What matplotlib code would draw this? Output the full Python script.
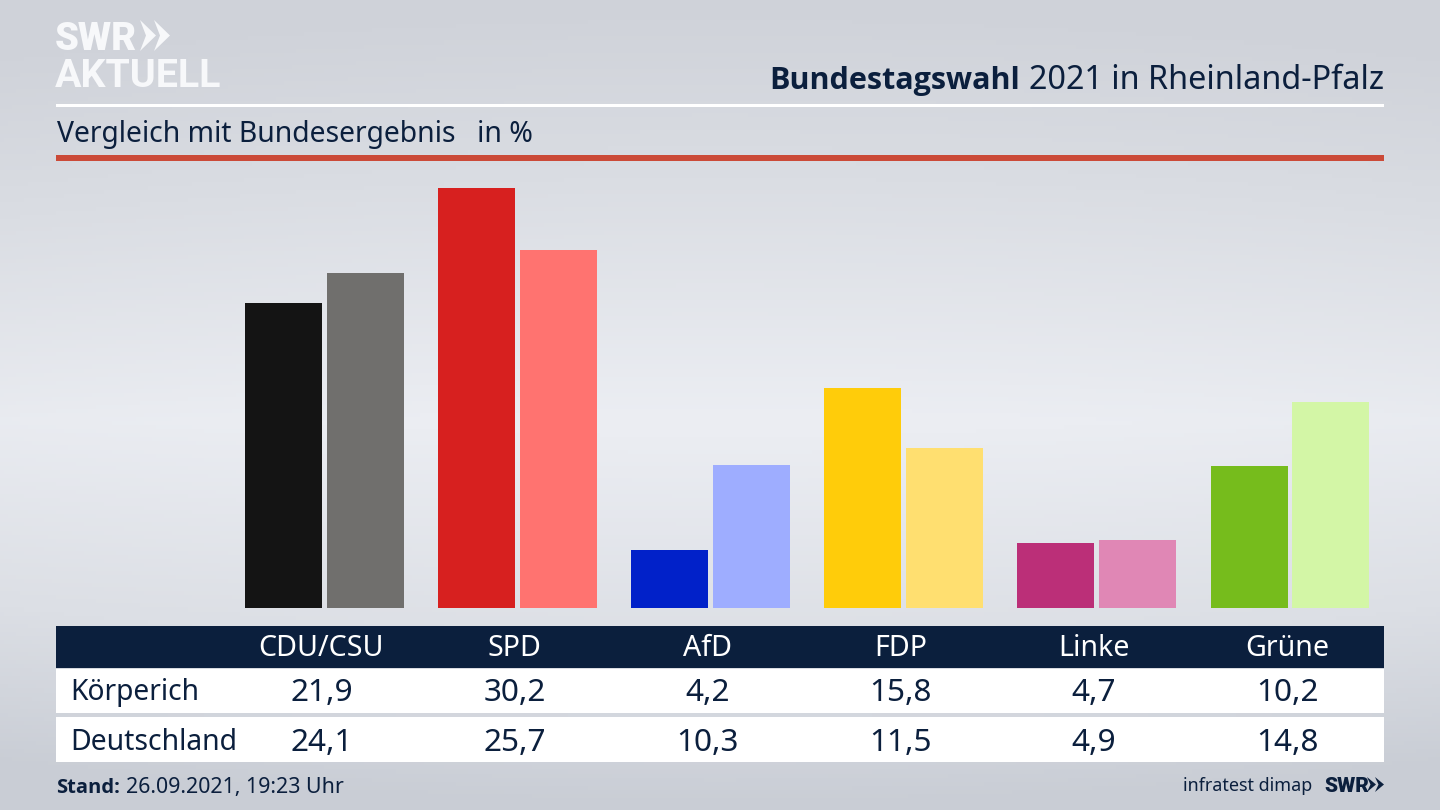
import numpy as np
from matplotlib import pyplot as plt
from matplotlib.colors import LinearSegmentedColormap
from matplotlib.patches import Polygon, Rectangle

parteien = ["CDU/CSU", "SPD", "AfD", "FDP", "Linke", "Grüne"]
koerperich = [21.9, 30.2, 4.2, 15.8, 4.7, 10.2]
deutschland = [24.1, 25.7, 10.3, 11.5, 4.9, 14.8]
farben_koerperich = ["#141414", "#d7201f", "#0121c9", "#ffcc0a", "#bb2f78", "#76bc1c"]
farben_deutschland = ["#706f6d", "#ff7370", "#9eadff", "#ffdf70", "#e087b5", "#d3f6a6"]

NAVY = "#0b1f3d"
plt.rcParams["font.family"] = ["Noto Sans", "DejaVu Sans"]

fig = plt.figure(figsize=(14.4, 8.1), dpi=100)


def px_axes(left, top, right, bottom, **kwargs):
    # Achsen in Pixelkoordinaten des Bildes platzieren
    return fig.add_axes(
        [left / 1440, 1 - bottom / 810, (right - left) / 1440, (bottom - top) / 810], **kwargs
    )


def chevrons(axes, x0, y_top, y_bot, width, notch, step, color):
    # Die zwei Pfeile des SWR-Logos
    y_mid = (y_top + y_bot) / 2
    for dx in (0, step):
        axes.add_patch(Polygon(
            [(x0 + dx, y_top), (x0 + width + dx, y_mid), (x0 + dx, y_bot), (x0 + notch + dx, y_mid)],
            closed=True, color=color, lw=0,
        ))


# Hintergrund: senkrechter Verlauf, zu den Raendern etwas dunkler
bg = px_axes(0, 0, 1440, 810)
cmap = LinearSegmentedColormap.from_list(
    "bg", [(0, "#cfd2d9"), (0.2, "#d9dce2"), (0.52, "#eceef3"), (0.8, "#dcdfe5"), (1, "#c9cdd5")]
)
yy, xx = np.mgrid[0:1:200j, 0:1:360j]
shade = yy - 0.05 * (2 * xx - 1) ** 2 * np.sign(0.52 - yy)
bg.imshow(shade, cmap=cmap, vmin=0, vmax=1, aspect="auto", extent=(0, 1440, 810, 0))
bg.axis("off")

# Overlay fuer Linien, Tabelle und Text
ov = px_axes(0, 0, 1440, 810)
ov.set_xlim(0, 1440)
ov.set_ylim(810, 0)
ov.axis("off")
ov.patch.set_alpha(0)

# Balken
ax = px_axes(227.95, 176.6, 1386.55, 608)
ax.patch.set_alpha(0)
x = np.arange(len(parteien))
ax.bar(x - 0.2123, koerperich, width=0.3988, color=farben_koerperich)
ax.bar(x + 0.2123, deutschland, width=0.3988, color=farben_deutschland)
ax.set_xlim(-0.5, 5.5)
ax.set_ylim(0, 31)
ax.axis("off")

# Logo
ov.text(55, 50, "SWR", color="#f7f8fa", fontsize=27.5, fontweight="black", family="Roboto",
        va="baseline", ha="left")
ov.text(55, 87, "AKTUELL", color="#f7f8fa", fontsize=28.4, fontweight="bold", family="Roboto",
        va="baseline", ha="left")
chevrons(ov, 140, 20, 51, 16, 6, 14, "#f7f8fa")

# Kopf
ov.text(1384, 89, "2021 in Rheinland-Pfalz", color=NAVY, fontsize=23.3, ha="right", va="baseline")
ov.text(1020, 89, "Bundestagswahl", color=NAVY, fontsize=22, fontweight="bold", family="Open Sans",
        ha="right", va="baseline")
ov.add_patch(Rectangle((56, 104), 1328, 3, color="white", lw=0))
ov.text(57, 142, "Vergleich mit Bundesergebnis", color=NAVY, fontsize=20.4, va="baseline")
ov.text(477, 142, "in %", color=NAVY, fontsize=20.5, va="baseline")
ov.add_patch(Rectangle((56, 155), 1328, 5.5, color="#cb4a38", lw=0))

# Tabelle
ov.add_patch(Rectangle((56, 626), 1328, 42, color=NAVY, lw=0))
ov.add_patch(Rectangle((56, 669), 1328, 44, color="white", lw=0))
ov.add_patch(Rectangle((56, 717), 1328, 45, color="white", lw=0))
ov.text(70, 700, "Körperich", color=NAVY, fontsize=20.3, va="baseline")
ov.text(70, 750, "Deutschland", color=NAVY, fontsize=20.4, va="baseline")
for i, partei in enumerate(parteien):
    cx = 321.5 + i * 193.1
    ov.text(cx, 656, partei, color="white", fontsize=20.6, ha="center", va="baseline")
    ov.text(cx, 701, f"{koerperich[i]:.1f}".replace(".", ","), color=NAVY, fontsize=22.7,
            ha="center", va="baseline")
    ov.text(cx, 751, f"{deutschland[i]:.1f}".replace(".", ","), color=NAVY, fontsize=22.7,
            ha="center", va="baseline")

# Fusszeile
ov.text(56, 793, "Stand:", color=NAVY, fontsize=14.5, fontweight="bold", family="Open Sans", va="baseline")
ov.text(126, 793, "26.09.2021, 19:23 Uhr", color=NAVY, fontsize=15.4, va="baseline")
ov.text(1312, 791, "infratest dimap", color=NAVY, fontsize=12.9, ha="right", va="baseline")
ov.text(1324, 792, "SWR", color=NAVY, fontsize=15, fontweight="black", family="Roboto", va="baseline")
chevrons(ov, 1367, 777, 792, 9, 3.5, 8, NAVY)

fig.savefig("out.png", dpi=100)
